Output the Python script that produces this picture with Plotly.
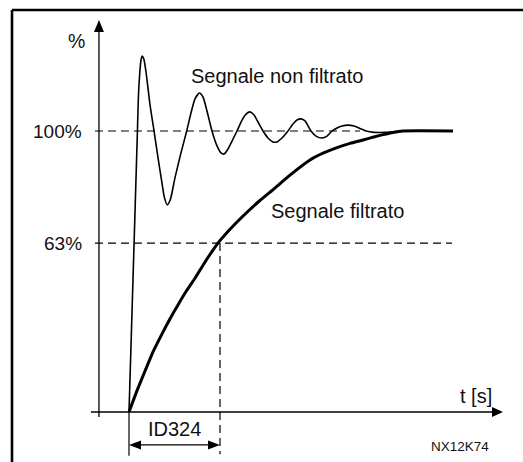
import plotly.graph_objects as go

# ---- data (time in units of the filter time constant ID324, value in %) ----
raw_t = [0, 0.047, 0.093, 0.104, 0.119, 0.132, 0.146, 0.163, 0.187, 0.231, 0.275,
         0.319, 0.357, 0.390, 0.421, 0.456, 0.505, 0.571, 0.634, 0.681, 0.725,
         0.773, 0.813, 0.857, 0.912, 0.967, 1.011, 1.044, 1.088, 1.132, 1.187,
         1.242, 1.286, 1.330, 1.374, 1.418, 1.473, 1.527, 1.582, 1.626, 1.681,
         1.747, 1.802, 1.846, 1.890, 1.934, 2.000, 2.055, 2.121, 2.176, 2.231,
         2.286, 2.341, 2.407, 2.473, 2.538, 2.604, 2.692, 2.813, 3.011, 3.560]
raw_v = [0, 50.5, 100.4, 112.8, 121.0, 125.3, 126.7, 125.6, 121.0, 109.3, 100.0,
         90.4, 82.6, 76.2, 73.7, 75.8, 83.3, 92.2, 100.0, 106.4, 111.4,
         113.5, 112.1, 107.1, 100.0, 94.7, 92.2, 91.8, 93.6, 96.4, 100.0,
         103.9, 106.0, 106.8, 105.7, 103.2, 100.0, 97.5, 96.1, 96.1, 97.5,
         100.0, 102.5, 103.9, 104.3, 103.6, 100.0, 98.2, 97.5, 98.2, 100.0,
         101.1, 101.8, 102.1, 101.8, 100.9, 100.0, 99.5, 99.5, 100.0, 100.0]

filt_t = [0, 0.088, 0.176, 0.264, 0.363, 0.451, 0.538, 0.637, 0.725, 0.846,
          0.978, 1.110, 1.242, 1.429, 1.604, 1.769, 1.989, 2.132, 2.286, 2.429,
          2.571, 2.681, 2.791, 2.901, 3.011, 3.560]
filt_v = [0, 7.6, 14.6, 21.4, 27.8, 33.2, 38.1, 43.4, 47.6, 53.9,
          60.1, 65.0, 69.4, 75.0, 79.7, 84.3, 89.7, 92.1, 94.1, 95.6,
          96.8, 97.8, 98.7, 99.5, 100.0, 100.0]

level_100 = 100.0      # drawn level of the "100%" line
level_63 = 60.1        # drawn level of the "63%" line
tau = 1.0              # ID324
tick_labels = ["100%", "63%"]

# ---- diagram geometry (data units) ----
X_RANGE = [-129 / 91, 394 / 91]
Y_RANGE = [-50 / 2.81, 412 / 2.81]
y_axis_x = -0.330
y_axis_bottom, y_axis_top = -1.8, 139.5
x_axis_left, x_axis_right = -0.418, 4.110
dash_left = -0.374
dash100_right = 2.538
dash63_right = 3.549
below = -15.0
arrow_y = -11.7

FONT = "Liberation Sans, Arial, Helvetica, sans-serif"
TXT = "#111111"

fig = go.Figure()
fig.add_trace(go.Scatter(x=raw_t, y=raw_v, mode="lines",
                         line=dict(color="black", width=1.6, shape="spline", smoothing=0.6),
                         hoverinfo="skip", showlegend=False))
fig.add_trace(go.Scatter(x=filt_t, y=filt_v, mode="lines",
                         line=dict(color="black", width=3, shape="spline", smoothing=0.5),
                         hoverinfo="skip", showlegend=False))

shapes = []
# frame (top and left edge)
shapes.append(dict(type="line", xref="paper", yref="paper", x0=12 / 523, x1=1.0,
                   y0=1 - 10 / 462, y1=1 - 10 / 462, line=dict(color="black", width=2.6)))
shapes.append(dict(type="line", xref="paper", yref="paper", x0=12 / 523, x1=12 / 523,
                   y0=1 - 10 / 462, y1=0, line=dict(color="black", width=2.6)))
# axes
shapes.append(dict(type="line", x0=y_axis_x, x1=y_axis_x, y0=y_axis_bottom, y1=y_axis_top - 3,
                   line=dict(color="black", width=1.3)))
shapes.append(dict(type="line", x0=x_axis_left, x1=x_axis_right - 0.05, y0=0, y1=0,
                   line=dict(color="black", width=1.3)))
# arrow heads
shapes.append(dict(type="path", xsizemode="pixel", ysizemode="pixel",
                   xanchor=y_axis_x, yanchor=y_axis_top,
                   path="M0,0 L-5,-12 L5,-12 Z", fillcolor="black", line=dict(width=0)))
shapes.append(dict(type="path", xsizemode="pixel", ysizemode="pixel",
                   xanchor=x_axis_right, yanchor=0,
                   path="M0,0 L-11,5 L-11,-5 Z", fillcolor="black", line=dict(width=0)))
# dashed reference lines
dash = dict(color="black", width=1.2, dash="8px,5px")
shapes.append(dict(type="line", x0=dash_left, x1=dash100_right, y0=level_100, y1=level_100, line=dash))
shapes.append(dict(type="line", x0=dash_left, x1=dash63_right, y0=level_63, y1=level_63, line=dash))
shapes.append(dict(type="line", x0=tau, x1=tau, y0=level_63, y1=below, line=dash))
# ID324 dimension
shapes.append(dict(type="line", x0=0, x1=0, y0=0, y1=below - 0.6, line=dict(color="black", width=1.2)))
shapes.append(dict(type="line", x0=0.05, x1=tau - 0.05, y0=arrow_y, y1=arrow_y,
                   line=dict(color="black", width=1.3)))
shapes.append(dict(type="path", xsizemode="pixel", ysizemode="pixel", xanchor=0, yanchor=arrow_y,
                   path="M0,0 L12,4.5 L12,-4.5 Z", fillcolor="black", line=dict(width=0)))
shapes.append(dict(type="path", xsizemode="pixel", ysizemode="pixel", xanchor=tau, yanchor=arrow_y,
                   path="M0,0 L-12,4.5 L-12,-4.5 Z", fillcolor="black", line=dict(width=0)))

ann = []
def text(x, y, s, size=19.5, xanchor="center"):
    ann.append(dict(x=x, y=y, text=s, showarrow=False, xanchor=xanchor, yanchor="middle",
                    font=dict(family=FONT, size=size, color=TXT)))

text(-0.577, 132.0, "%")
text(-0.50, level_100, tick_labels[0], xanchor="right", size=19)
text(-0.50, level_63, tick_labels[1], xanchor="right", size=19)
text(1.621, 119.6, "Segnale non filtrato", size=20)
text(2.291, 71.5, "Segnale filtrato", size=20)
text(3.813, 5.7, "t&#160;[s]", size=20)
text(0.495, -6.0, "ID324", size=20)
text(3.637, -12.3, "NX12K74", size=13.5)

fig.update_layout(width=523, height=462, margin=dict(l=0, r=0, t=0, b=0),
                  paper_bgcolor="white", plot_bgcolor="white",
                  xaxis=dict(range=X_RANGE, visible=False, fixedrange=True),
                  yaxis=dict(range=Y_RANGE, visible=False, fixedrange=True),
                  shapes=shapes, annotations=ann, showlegend=False)
fig.write_html("out.html", config={"displayModeBar": False},
               post_script="document.body.style.margin='0px';")
